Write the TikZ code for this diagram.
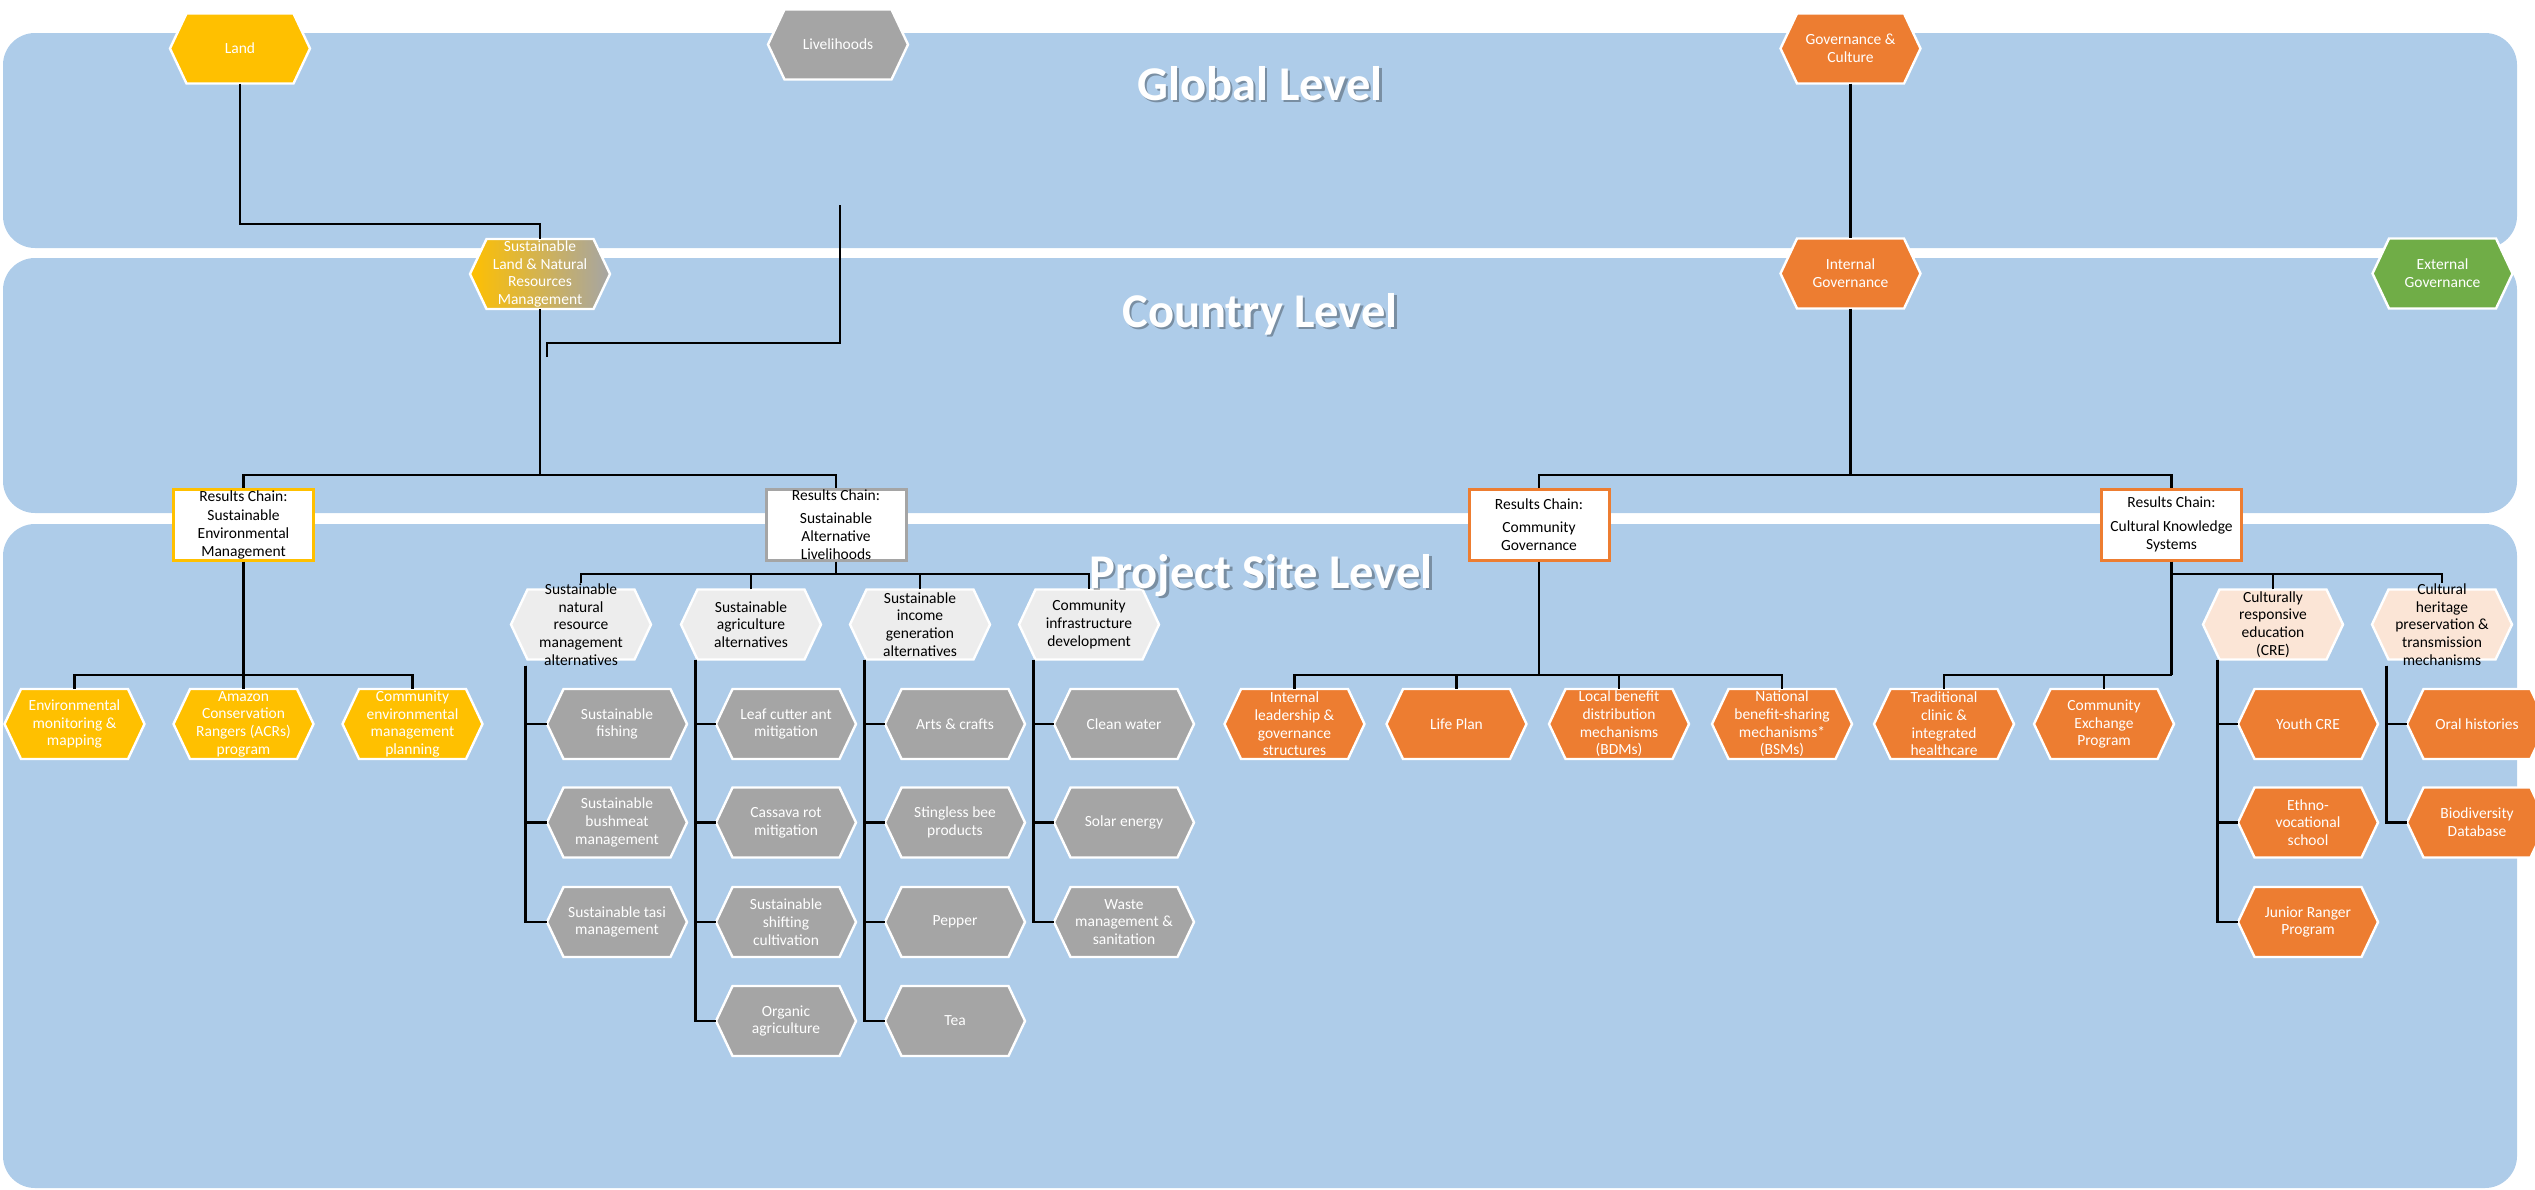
\documentclass[tikz,border=0pt]{standalone}
\usepackage{fontspec}
\setmainfont{Carlito}
\usetikzlibrary{calc}
\definecolor{band}{RGB}{174,204,233}
\definecolor{gold}{RGB}{255,192,0}
\definecolor{hgray}{RGB}{165,165,165}
\definecolor{orng}{RGB}{237,125,49}
\definecolor{grn}{RGB}{112,173,71}
\definecolor{lgray}{RGB}{237,237,237}
\definecolor{peach}{RGB}{251,229,214}
\newcommand\hexfont{\fontsize{15.5pt}{17.7pt}\selectfont}
\newcommand\ttlfont{\fontsize{48.5pt}{58pt}\selectfont\bfseries}
\tikzset{
  hexpath/.style={draw=white, line width=2.4pt, line join=miter},
  hexlabel/.style={inner sep=0pt, minimum width=140pt, minimum height=70pt, align=center, font=\hexfont, text=white},
  dark/.style={text=black},
  rcbox/.style={fill=white, line width=3pt, minimum width=140pt, minimum height=71pt, inner sep=0pt, align=center, font=\hexfont, text=black},
  conn/.style={draw=black, line width=2.8pt, line join=miter},
  ttl/.style={text=white, font=\ttlfont, anchor=base, inner sep=0pt},
  ttlshadow/.style={text=black, opacity=0.3, font=\ttlfont, anchor=base, inner sep=0pt},
  bandbox/.style={fill=band, rounded corners=32pt}
}
% optional node style, name, x, y, fill style, text
\newcommand\HexN[6][]{%
  \path[hexpath,#5] (#3-70,#4) -- (#3-53.5,#4-35) -- (#3+53.5,#4-35) -- (#3+70,#4) -- (#3+53.5,#4+35) -- (#3-53.5,#4+35) -- cycle;
  \node[hexlabel,#1] (#2) at (#3,#4) {#6};
}
\begin{document}
\begin{tikzpicture}[x=1pt,y=-1pt]
\useasboundingbox (0,0) rectangle (2535,1189);
\clip (0,0) rectangle (2535,1189);
% bands
\path[bandbox] (3,33) rectangle (2517,248);
\path[bandbox] (3,258) rectangle (2517,513);
\path[bandbox] (3,524) rectangle (2517,1188);

% top level
\HexN{land}{240}{48.5}{fill=gold}{Land}
\HexN{liv}{838}{44.5}{fill=hgray}{Livelihoods}
\HexN{gc}{1850.5}{48.5}{fill=orng}{Governance \&\\Culture}
\HexN{slnrm}{540}{274}{left color=gold,middle color=gold,right color=hgray}{Sustainable\\Land \& Natural\\Resources\\Management}
\HexN{ig}{1850.5}{273.5}{fill=orng}{Internal\\Governance}
\HexN{eg}{2442.5}{273.5}{fill=grn}{External\\Governance}

% results chains
\node[rcbox,draw=gold] (sem) at (243.5,524.5) {Results Chain:\\[2pt]Sustainable\\Environmental\\Management};
\node[rcbox,draw=hgray] (sal) at (836,524.5) {Results Chain:\\[6pt]Sustainable\\Alternative\\Livelihoods};
\node[rcbox,draw=orng] (cg) at (1539,524.5) {Results Chain:\\[6pt]Community\\Governance};
\node[rcbox,draw=orng] (cks) at (2171.5,524.5) {Results Chain:\\[6pt]Cultural Knowledge\\Systems};

% SEM children
\HexN{emm}{74.5}{724}{fill=gold}{Environmental\\monitoring \&\\mapping}
\HexN{acr}{243.5}{724}{fill=gold}{Amazon\\Conservation\\Rangers (ACRs)\\program}
\HexN{cemp}{412.5}{724}{fill=gold}{Community\\environmental\\management\\planning}

% SAL categories
\HexN[dark]{snr}{581}{624.5}{fill=lgray}{Sustainable\\natural\\resource\\management\\alternatives}
\HexN[dark]{sag}{751}{624.5}{fill=lgray}{Sustainable\\agriculture\\alternatives}
\HexN[dark]{sig}{920}{624.5}{fill=lgray}{Sustainable\\income\\generation\\alternatives}
\HexN[dark]{cid}{1089}{624.5}{fill=lgray}{Community\\infrastructure\\development}

\HexN{sfish}{617}{724}{fill=hgray}{Sustainable\\fishing}
\HexN{sbush}{617}{822.5}{fill=hgray}{Sustainable\\bushmeat\\management}
\HexN{stasi}{617}{922}{fill=hgray}{Sustainable tasi\\management}

\HexN{leaf}{786}{724}{fill=hgray}{Leaf cutter ant\\mitigation}
\HexN{cass}{786}{822.5}{fill=hgray}{Cassava rot\\mitigation}
\HexN{ssc}{786}{922}{fill=hgray}{Sustainable\\shifting\\cultivation}
\HexN{org}{786}{1021}{fill=hgray}{Organic\\agriculture}

\HexN{arts}{955}{724}{fill=hgray}{Arts \& crafts}
\HexN{bee}{955}{822.5}{fill=hgray}{Stingless bee\\products}
\HexN{pep}{955}{922}{fill=hgray}{Pepper}
\HexN{tea}{955}{1021}{fill=hgray}{Tea}

\HexN{water}{1124}{724}{fill=hgray}{Clean water}
\HexN{solar}{1124}{822.5}{fill=hgray}{Solar energy}
\HexN{waste}{1124}{922}{fill=hgray}{Waste\\management \&\\sanitation}

% CG children
\HexN{ilg}{1294.5}{724}{fill=orng}{Internal\\leadership \&\\governance\\structures}
\HexN{lp}{1456.5}{724}{fill=orng}{Life Plan}
\HexN{lbd}{1619}{724}{fill=orng}{Local benefit\\distribution\\mechanisms\\(BDMs)}
\HexN{nbs}{1782}{724}{fill=orng}{National\\benefit-sharing\\mechanisms*\\(BSMs)}

% CKS children
\HexN{tci}{1944}{724}{fill=orng}{Traditional\\clinic \&\\integrated\\healthcare}
\HexN{cep}{2104}{724}{fill=orng}{Community\\Exchange\\Program}
\HexN[dark]{cre}{2273}{624.5}{fill=peach}{Culturally\\responsive\\education\\(CRE)}
\HexN[dark]{chp}{2442}{624.5}{fill=peach}{Cultural\\heritage\\preservation \&\\transmission\\mechanisms}
\HexN{ycre}{2308}{724}{fill=orng}{Youth CRE}
\HexN{evs}{2308}{822.5}{fill=orng}{Ethno-\\vocational\\school}
\HexN{jrp}{2308}{922}{fill=orng}{Junior Ranger\\Program}
\HexN{oral}{2477}{724}{fill=orng}{Oral histories}
\HexN{bio}{2477}{822.5}{fill=orng}{Biodiversity\\Database}

% connectors
\coordinate (j1) at (540,224);
\draw[conn] (land.south) |- (j1) -- (slnrm.north);
\coordinate (lvA) at (840,205);
\coordinate (lvB) at (840,343);
\coordinate (lvC) at (547,343);
\coordinate (lvD) at (547,357);
\draw[conn] (lvA) -- (lvB) -- (lvC) -- (lvD);

\coordinate (b1) at (540,475);
\draw[conn] (slnrm.south) -- (b1);
\draw[conn] (sem.north) |- (b1) -| (sal.north);

\draw[conn] (gc.south) -- (ig.north);
\coordinate (b2) at (1850.5,475);
\draw[conn] (ig.south) -- (b2);
\draw[conn] (cg.north) |- (b2) -| (cks.north);

\coordinate (b3) at (243.5,675);
\draw[conn] (sem.south) -- (acr.north);
\draw[conn] (emm.north) |- (b3) -| (cemp.north);

\coordinate (b4) at (836,574);
\draw[conn] (sal.south) -- (b4);
\draw[conn] (snr.north) |- (b4) -| (cid.north);
\draw[conn] (sag.north) -- (sag.north |- b4);
\draw[conn] (sig.north) -- (sig.north |- b4);

\foreach \p/\c in {snr/sfish,snr/sbush,snr/stasi,sag/leaf,sag/cass,sag/ssc,sag/org,sig/arts,sig/bee,sig/pep,sig/tea,cid/water,cid/solar,cid/waste,cre/ycre,cre/evs,cre/jrp,chp/oral,chp/bio}
  \draw[conn] ([xshift=-55.5pt]\p.south) |- (\c.west);

\coordinate (b5) at (1539,675);
\draw[conn] (cg.south) -- (b5);
\draw[conn] (ilg.north) |- (b5) -| (nbs.north);
\draw[conn] (lp.north) -- (lp.north |- b5);
\draw[conn] (lbd.north) -- (lbd.north |- b5);

\coordinate (b6) at (2171.5,574);
\coordinate (b7) at (2171.5,675);
\draw[conn] (cks.south) -- (b7);
\draw[conn] (tci.north) |- (b7);
\draw[conn] (cep.north) -- (cep.north |- b7);
\draw[conn] (b6) -| (chp.north);
\draw[conn] (cre.north) -- (cre.north |- b6);

% titles
\node[ttlshadow] (tgs) at (1262.5,102.5) {Global Level};
\node[ttl] (tg) at (1260,100) {Global Level};
\node[ttlshadow] (tcs) at (1262.5,329.5) {Country Level};
\node[ttl] (tc) at (1260,327) {Country Level};
\node[ttlshadow] (tps) at (1263.5,590.5) {Project Site Level};
\node[ttl] (tp) at (1261,588) {Project Site Level};
\end{tikzpicture}
\end{document}
